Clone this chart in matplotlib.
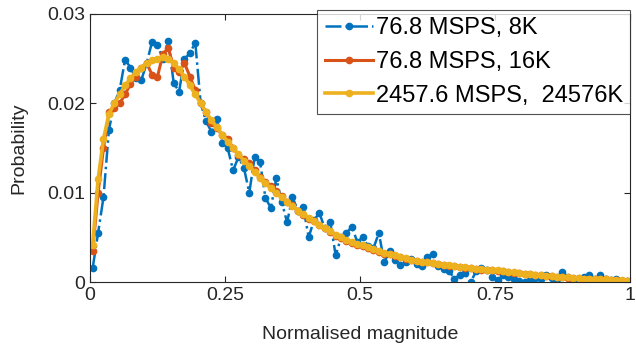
import numpy as np
import matplotlib.pyplot as plt

plt.rcParams['font.family'] = ['Liberation Sans', 'DejaVu Sans']

# bin centres (normalised magnitude)
x_bins = np.arange(0.005, 1.0, 0.01)

p_8k = [0.0016, 0.0055, 0.0095, 0.0170, 0.0200, 0.0215, 0.0249, 0.0240, 0.0228, 0.0226,
        0.0245, 0.0269, 0.0265, 0.0250, 0.0270, 0.0223, 0.0213, 0.0250, 0.0256, 0.0268,
        0.0200, 0.0180, 0.0168, 0.0182, 0.0156, 0.0150, 0.0125, 0.0140, 0.0128, 0.0100,
        0.0140, 0.0134, 0.0094, 0.0083, 0.0116, 0.0090, 0.0067, 0.0095, 0.0080, 0.0084,
        0.0050, 0.0070, 0.0077, 0.0060, 0.0067, 0.0030, 0.0050, 0.0055, 0.0062, 0.0045,
        0.0050, 0.0040, 0.0038, 0.0055, 0.0022, 0.0035, 0.0025, 0.0019, 0.0022, 0.0026,
        0.0020, 0.0018, 0.0028, 0.0032, 0.0018, 0.0015, 0.0012, 0.0004, 0.0008, 0.0010,
        0.0000, 0.0012, 0.0016, 0.0013, 0.0006, 0.0002, 0.0008, 0.0006, 0.0004, 0.0001,
        0.0000, 0.0002, 0.0005, 0.0004, 0.0008, 0.0005, 0.0003, 0.0011, 0.0006, 0.0004,
        0.0003, 0.0006, 0.0008, 0.0004, 0.0008, 0.0003, 0.0002, 0.0003, 0.0001, 0.0001]

p_16k = [0.0035, 0.0100, 0.0150, 0.0190, 0.0195, 0.0200, 0.0210, 0.0222, 0.0230, 0.0240,
         0.0245, 0.0232, 0.0230, 0.0255, 0.0262, 0.0240, 0.0235, 0.0245, 0.0230, 0.0215,
         0.0200, 0.0190, 0.0178, 0.0172, 0.0165, 0.0160, 0.0150, 0.0142, 0.0138, 0.0133,
         0.0125, 0.0118, 0.0112, 0.0108, 0.0102, 0.0096, 0.0090, 0.0086, 0.0080, 0.0075,
         0.0071, 0.0068, 0.0064, 0.0060, 0.0056, 0.0052, 0.0049, 0.0046, 0.0044, 0.0042,
         0.0040, 0.0038, 0.0036, 0.0034, 0.0032, 0.0031, 0.0029, 0.0028, 0.0026, 0.0025,
         0.0024, 0.0023, 0.0022, 0.0021, 0.0020, 0.0019, 0.0018, 0.0018, 0.0017, 0.0016,
         0.0016, 0.0015, 0.0014, 0.0014, 0.0013, 0.0012, 0.0012, 0.0011, 0.0010, 0.0010,
         0.0009, 0.0009, 0.0008, 0.0008, 0.0007, 0.0007, 0.0006, 0.0006, 0.0005, 0.0005,
         0.0005, 0.0004, 0.0004, 0.0003, 0.0003, 0.0003, 0.0002, 0.0002, 0.0001, 0.0001]

p_24576k = [0.0042, 0.0115, 0.0160, 0.0188, 0.0200, 0.0210, 0.0220, 0.0228, 0.0235, 0.0240,
            0.0245, 0.0248, 0.0250, 0.0252, 0.0250, 0.0245, 0.0238, 0.0230, 0.0220, 0.0210,
            0.0200, 0.0190, 0.0181, 0.0173, 0.0165, 0.0157, 0.0150, 0.0143, 0.0136, 0.0130,
            0.0123, 0.0117, 0.0111, 0.0105, 0.0100, 0.0095, 0.0090, 0.0085, 0.0080, 0.0076,
            0.0072, 0.0068, 0.0064, 0.0060, 0.0057, 0.0053, 0.0050, 0.0047, 0.0045, 0.0043,
            0.0041, 0.0039, 0.0037, 0.0035, 0.0033, 0.0031, 0.0030, 0.0028, 0.0027, 0.0025,
            0.0024, 0.0023, 0.0022, 0.0021, 0.0020, 0.0019, 0.0019, 0.0018, 0.0017, 0.0017,
            0.0016, 0.0015, 0.0015, 0.0014, 0.0013, 0.0013, 0.0012, 0.0011, 0.0011, 0.0010,
            0.0009, 0.0009, 0.0008, 0.0008, 0.0007, 0.0007, 0.0006, 0.0006, 0.0006, 0.0005,
            0.0005, 0.0004, 0.0004, 0.0004, 0.0003, 0.0003, 0.0002, 0.0002, 0.0002, 0.0001]

labels = ['76.8 MSPS, 8K', '76.8 MSPS, 16K', '2457.6 MSPS,  24576K']

fig = plt.figure(figsize=(6.36, 3.5), dpi=100)
ax = fig.add_axes([0.1415, 0.194, 0.849, 0.766])

ax.plot(x_bins, p_8k, '-.', marker='.', color='#0072BD', lw=1.8, ms=9, label=labels[0])
ax.plot(x_bins, p_16k, '-', marker='.', color='#D95319', lw=2.2, ms=9, label=labels[1])
ax.plot(x_bins, p_24576k, '-', marker='.', color='#EDB120', lw=2.6, ms=9, label=labels[2])

ax.set_xlim(0, 1)
ax.set_ylim(0, 0.03)
ax.set_xticks([0, 0.25, 0.5, 0.75, 1])
ax.set_xticklabels(['0', '0.25', '0.5', '0.75', '1'])
ax.set_yticks([0, 0.01, 0.02, 0.03])
ax.set_yticklabels(['0', '0.01', '0.02', '0.03'])
ax.tick_params(direction='in', top=True, right=True, labelsize=14, color='#262626',
               labelcolor='#262626', length=4)
for s in ax.spines.values():
    s.set_color('#262626')
    s.set_linewidth(0.8)

ax.set_xlabel('Normalised magnitude', fontsize=14, color='#262626', labelpad=16)
ax.set_ylabel('Probability', fontsize=14, color='#262626', labelpad=14)

leg = ax.legend(loc='upper right', bbox_to_anchor=(1.0, 1.015), fontsize=17,
                frameon=True, fancybox=False, edgecolor='#262626', handlelength=2.05,
                handletextpad=0.12, borderpad=0.3, labelspacing=0.5, borderaxespad=0)
leg.get_frame().set_linewidth(0.8)

fig.savefig('out.png', dpi=100)
